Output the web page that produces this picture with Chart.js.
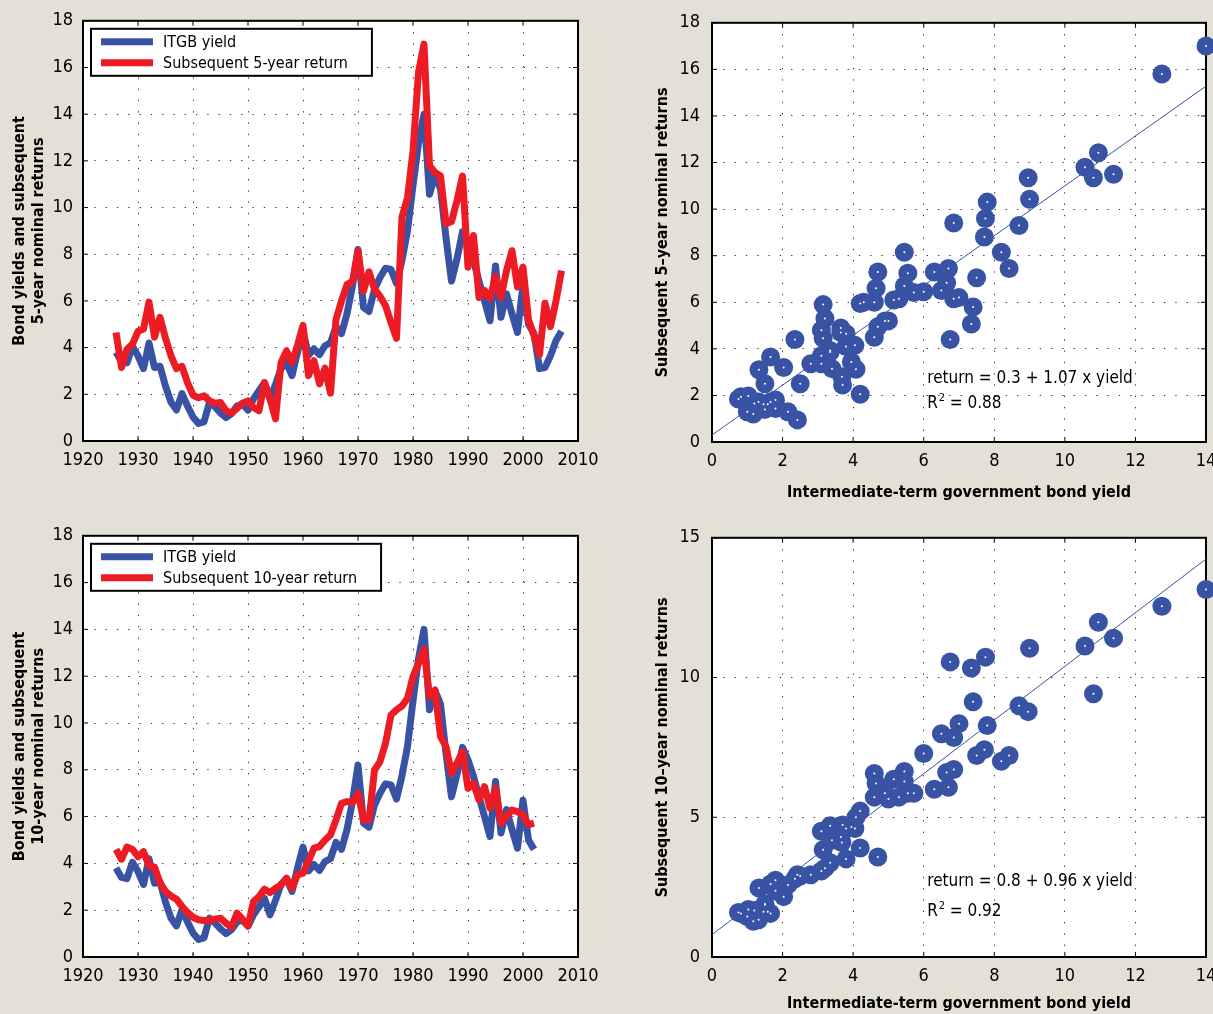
<!DOCTYPE html>
<html>
<head>
<meta charset="utf-8">
<script src="https://cdn.jsdelivr.net/npm/chart.js@4.4.1/dist/chart.umd.min.js"></script>
<style>
  html, body { margin: 0; padding: 0; background: #e3e0d6; overflow: hidden; width: 1213px; height: 1014px; }
  canvas { position: absolute; }
</style>
</head>
<body>
<canvas id="lines5" width="610" height="500" style="left:0;top:0"></canvas>
<canvas id="scatter5" width="620" height="510" style="left:620px;top:0"></canvas>
<canvas id="lines10" width="610" height="500" style="left:0;top:515px"></canvas>
<canvas id="scatter10" width="620" height="510" style="left:620px;top:515px"></canvas>
<script>
// years of the yield series
const years = [1926, 1927, 1928, 1929, 1930, 1931, 1932, 1933, 1934, 1935,
  1936, 1937, 1938, 1939, 1940, 1941, 1942, 1943, 1944, 1945,
  1946, 1947, 1948, 1949, 1950, 1951, 1952, 1953, 1954, 1955,
  1956, 1957, 1958, 1959, 1960, 1961, 1962, 1963, 1964, 1965,
  1966, 1967, 1968, 1969, 1970, 1971, 1972, 1973, 1974, 1975,
  1976, 1977, 1978, 1979, 1980, 1981, 1982, 1983, 1984, 1985,
  1986, 1987, 1988, 1989, 1990, 1991, 1992, 1993, 1994, 1995,
  1996, 1997, 1998, 1999, 2000, 2001, 2002, 2003, 2004, 2005,
  2006, 2007];

// intermediate-term government bond yield (%)
const itgbYield = [3.8, 3.4, 3.35, 4.05, 3.65, 3.1, 4.2, 3.15, 3.2, 2.35,
  1.66, 1.33, 2.03, 1.5, 1.03, 0.75, 0.82, 1.66, 1.46, 1.2,
  1.0, 1.17, 1.5, 1.58, 1.32, 1.8, 2.15, 2.5, 1.8, 2.42,
  3.1, 3.35, 2.8, 3.8, 4.7, 3.68, 3.95, 3.7, 4.08, 4.2,
  4.9, 4.6, 5.45, 6.65, 8.2, 5.72, 5.55, 6.5, 7.0, 7.4,
  7.35, 6.75, 7.75, 9.0, 10.95, 12.75, 14.0, 10.57, 11.38, 10.81,
  8.7, 6.85, 7.8, 8.96, 8.42, 7.72, 6.85, 6.0, 5.15, 7.5,
  5.3, 6.3, 5.45, 4.65, 6.7, 5.0, 4.6, 3.1, 3.15, 3.65,
  4.3, 4.7];

// subsequent 5-year nominal return (%)
const ret5 = [4.65, 3.15, 3.93, 4.15, 4.7, 4.8, 5.95, 4.45, 5.3, 4.4,
  3.65, 3.1, 3.2, 2.5, 1.97, 1.85, 1.94, 1.72, 1.62, 1.65,
  1.3, 1.2, 1.4, 1.62, 1.72, 1.44, 1.3, 2.5, 1.8, 0.95,
  3.36, 3.86, 3.36, 4.1, 4.95, 2.8, 3.44, 2.45, 3.12, 2.05,
  5.2, 6.0, 6.7, 6.84, 8.15, 6.42, 7.25, 6.5, 6.2, 5.8,
  5.07, 4.4, 9.6, 10.42, 12.42, 15.8, 17.0, 11.8, 11.5, 11.35,
  9.3, 9.4, 10.3, 11.35, 7.45, 8.8, 6.15, 6.45, 6.1, 7.05,
  6.15, 7.3, 8.15, 6.6, 7.45, 5.2, 4.5, 3.7, 5.9, 4.9,
  6.0, 7.3];

// subsequent 10-year nominal return (%), 1926-2002
const ret10 = [4.6, 4.18, 4.7, 4.6, 4.29, 4.5, 3.9, 3.84, 3.18, 2.8,
  2.61, 2.47, 2.16, 1.9, 1.7, 1.59, 1.56, 1.56, 1.62, 1.66,
  1.45, 1.28, 1.87, 1.62, 1.33, 2.37, 2.58, 2.9, 2.75, 2.94,
  3.08, 3.37, 2.94, 3.51, 3.58, 4.1, 4.65, 4.72, 5.0, 5.22,
  5.86, 6.57, 6.64, 6.6, 7.0, 5.86, 5.86, 7.99, 8.35, 9.13,
  10.34, 10.56, 10.73, 11.05, 11.98, 12.55, 13.15, 11.13, 11.41, 9.42,
  8.99, 7.85, 8.28, 8.78, 7.21, 7.42, 6.71, 7.28, 6.36, 7.21,
  5.72, 6.0, 6.28, 6.21, 6.07, 5.65, 5.72];

// regression fits: [intercept, slope] and R squared
const fit5 = [0.3, 1.07];
const r2Fit5 = "0.88";
const fit10 = [0.8, 0.96];
const r2Fit10 = "0.92";

const FONT = "'DejaVu Sans Condensed', 'Liberation Sans Narrow', 'Roboto', sans-serif";
const BLUE = "#3953a4";
const RED = "#ed1c24";

// white plot area, box and inward ticks like the original
const frame = {
  id: "frame",
  beforeDraw(chart) {
    const { ctx, chartArea: a } = chart;
    ctx.save();
    ctx.fillStyle = "#fff";
    ctx.fillRect(a.left, a.top, a.width, a.height);
    ctx.restore();
  },
  beforeDatasetsDraw(chart) {
    const { ctx, chartArea: a, scales } = chart;
    ctx.save();
    ctx.strokeStyle = "#000";
    ctx.lineWidth = 1;
    ctx.beginPath();
    scales.x.ticks.forEach((t) => {
      const px = scales.x.getPixelForValue(t.value);
      ctx.moveTo(px, a.bottom); ctx.lineTo(px, a.bottom - 5);
      ctx.moveTo(px, a.top); ctx.lineTo(px, a.top + 5);
    });
    scales.y.ticks.forEach((t) => {
      const py = scales.y.getPixelForValue(t.value);
      ctx.moveTo(a.left, py); ctx.lineTo(a.left + 5, py);
      ctx.moveTo(a.right, py); ctx.lineTo(a.right - 5, py);
    });
    ctx.stroke();
    ctx.lineWidth = 2;
    ctx.strokeRect(a.left, a.top, a.width, a.height);
    ctx.restore();
  },
};

// legend drawn inside a black box at the top left of the plot
const boxLegend = {
  id: "boxLegend",
  afterDatasetsDraw(chart, args, opts) {
    if (!opts.show) return;
    const { ctx, chartArea: a } = chart;
    const items = chart.data.datasets;
    ctx.save();
    ctx.font = "16px " + FONT;
    const tw = Math.max(...items.map((d) => ctx.measureText(d.label).width));
    const x0 = a.left + 8, y0 = a.top + 8;
    const w = 72 + tw + 24, h = 47;
    ctx.fillStyle = "#fff";
    ctx.fillRect(x0, y0, w, h);
    ctx.lineWidth = 2;
    ctx.strokeStyle = "#000";
    ctx.strokeRect(x0, y0, w, h);
    items.forEach((d, i) => {
      const y = y0 + 13 + i * 21;
      ctx.strokeStyle = d.borderColor;
      ctx.lineWidth = 7;
      ctx.beginPath();
      ctx.moveTo(x0 + 10, y);
      ctx.lineTo(x0 + 62, y);
      ctx.stroke();
      ctx.fillStyle = "#000";
      ctx.textBaseline = "middle";
      ctx.fillText(d.label, x0 + 72, y + 1);
    });
    ctx.restore();
  },
};

// regression equation text
const fitLabel = {
  id: "fitLabel",
  afterDatasetsDraw(chart, args, o) {
    if (!o.text) return;
    const { ctx, scales: { x, y } } = chart;
    const px = x.getPixelForValue(o.x);
    ctx.save();
    ctx.fillStyle = "#000";
    ctx.textBaseline = "alphabetic";
    ctx.font = "17px " + FONT;
    ctx.fillText(o.text, px, y.getPixelForValue(o.y1));
    const py = y.getPixelForValue(o.y2);
    ctx.fillText("R", px, py);
    const rw = ctx.measureText("R").width;
    ctx.font = "11px " + FONT;
    ctx.fillText("2", px + rw + 1, py - 7);
    ctx.font = "17px " + FONT;
    ctx.fillText("= " + o.r2, px + rw + 12, py);
    ctx.restore();
  },
};

function yAxis(min, max, step, title, width, titlePad, tickPad) {
  return {
    type: "linear", min, max,
    ticks: { stepSize: step, color: "#000", padding: tickPad, font: { family: FONT, size: 18 } },
    grid: { color: "#333", lineWidth: 1, drawTicks: false },
    border: { display: false, dash: [1.3, 10] },
    title: { display: true, text: title, color: "#000", padding: { top: titlePad, bottom: 0 },
      font: { family: FONT, size: 16, weight: "bold" } },
    afterFit(s) { s.width = width; },
  };
}

function xAxis(min, max, step, title, height, titlePad) {
  return {
    type: "linear", min, max,
    ticks: { stepSize: step, color: "#000", padding: 9, maxRotation: 0, autoSkip: false,
      font: { family: FONT, size: 18 }, callback: (v) => String(v) },
    grid: { color: "#333", lineWidth: 1, drawTicks: false },
    border: { display: false, dash: [1.3, 10] },
    title: { display: !!title, text: title, color: "#000", padding: { top: 0, bottom: titlePad },
      font: { family: FONT, size: 16, weight: "bold" } },
    afterFit(s) { s.height = height; },
  };
}

function lineChart(id, returns, retLabel, yTitle, xHeight) {
  const n = returns.length;
  new Chart(document.getElementById(id), {
    type: "line",
    data: {
      datasets: [
        { label: "ITGB yield", data: years.slice(0, n).map((yr, i) => ({ x: yr, y: itgbYield[i] })),
          borderColor: BLUE, borderWidth: 7, pointRadius: 0, order: 1 },
        { label: retLabel, data: years.slice(0, n).map((yr, i) => ({ x: yr, y: returns[i] })),
          borderColor: RED, borderWidth: 7, pointRadius: 0, order: 0 },
      ],
    },
    options: {
      responsive: false, animation: false, events: [],
      layout: { padding: { top: 20, right: 32, left: 0, bottom: 0 } },
      elements: { line: { tension: 0, borderJoinStyle: "round", fill: false } },
      scales: {
        x: xAxis(1920, 2010, 10, "", xHeight, 0),
        y: yAxis(0, 18, 2, yTitle, 83, 10, 10),
      },
      plugins: { legend: { display: false }, tooltip: { enabled: false }, boxLegend: { show: true } },
    },
    plugins: [frame, boxLegend],
  });
}

function scatterChart(id, returns, fit, r2, yMax, yStep, yTitle, xTitlePad) {
  const pts = returns.map((r, i) => ({ x: itgbYield[i], y: r }));
  new Chart(document.getElementById(id), {
    type: "scatter",
    data: {
      datasets: [
        // small white centre dots on top of the markers
        { label: "centres", data: pts, pointStyle: "circle", pointRadius: 1, borderWidth: 0,
          backgroundColor: "#fff", clip: false, order: -1 },
        { label: "returns", data: pts, pointStyle: "circle", pointRadius: 9.5, borderWidth: 0,
          backgroundColor: BLUE, clip: false, order: 0 },
        { type: "line", label: "fit", data: [{ x: 0, y: fit[0] }, { x: 14, y: fit[0] + fit[1] * 14 }],
          borderColor: BLUE, borderWidth: 1, pointRadius: 0, order: 1 },
      ],
    },
    options: {
      responsive: false, animation: false, events: [],
      layout: { padding: { top: 20, right: 34, left: 0, bottom: 0 } },
      scales: {
        x: xAxis(0, 14, 2, "Intermediate-term government bond yield", 68, xTitlePad),
        y: yAxis(0, yMax, yStep, yTitle, 92, 33, 12),
      },
      plugins: {
        legend: { display: false }, tooltip: { enabled: false },
        fitLabel: { text: "return = " + fit[0] + " + " + fit[1] + " x yield", r2, x: 6.1, y1: 2.55, y2: 1.47 },
      },
    },
    plugins: [frame, fitLabel],
  });
}

lineChart("lines5", ret5, "Subsequent 5-year return",
  ["Bond yields and subsequent", "5-year nominal returns"], 59);
scatterChart("scatter5", ret5, fit5, r2Fit5, 18, 2, "Subsequent 5\u2013year nominal returns", 8);
lineChart("lines10", ret10, "Subsequent 10-year return",
  ["Bond yields and subsequent", "10-year nominal returns"], 58);
scatterChart("scatter10", ret10, fit10, r2Fit10, 15, 5, "Subsequent 10\u2013year nominal returns", 12);
</script>
</body>
</html>
